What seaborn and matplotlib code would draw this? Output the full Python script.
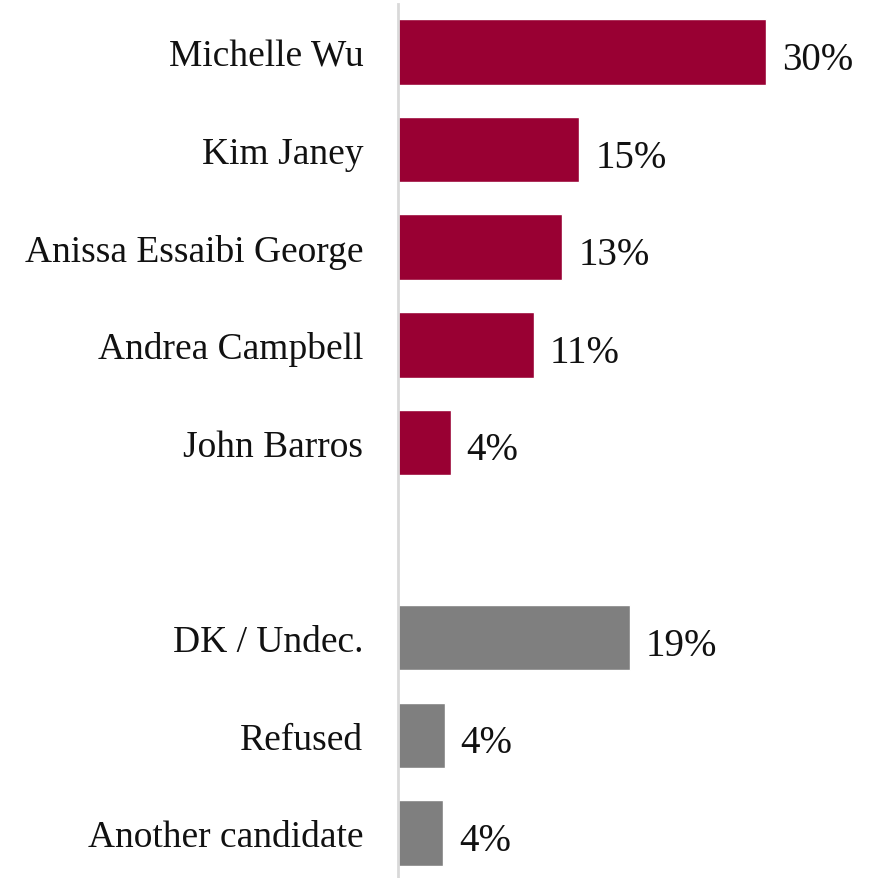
import matplotlib
matplotlib.use("Agg")
import matplotlib.pyplot as plt
import seaborn as sns
import pandas as pd

candidates = ["Michelle Wu", "Kim Janey", "Anissa Essaibi George", "Andrea Campbell",
              "John Barros", "DK / Undec.", "Refused", "Another candidate"]
values = [30.0, 14.8, 13.4, 11.1, 4.3, 18.9, 3.8, 3.7]
labels = ["30%", "15%", "13%", "11%", "4%", "19%", "4%", "4%"]
groups = ["cand", "cand", "cand", "cand", "cand", "other", "other", "other"]
positions = [0, 1, 2, 3, 4, 6, 7, 8]

df = pd.DataFrame({"name": candidates, "value": values, "group": groups, "pos": positions})

sns.set_theme(style="white")
plt.rcParams["font.family"] = ["Liberation Serif", "DejaVu Serif"]

fig = plt.figure(figsize=(8.7, 8.79), dpi=100)
ax = fig.add_axes([398 / 870, 0.0, 1 - 398 / 870, 1 - 5 / 879])

sns.barplot(data=df, x="value", y="pos", hue="group", orient="h", native_scale=True,
            palette={"cand": "#990033", "other": "#7f7f7f"}, dodge=False,
            width=0.67, legend=False, ax=ax, saturation=1)

ax.set_xlim(0, 38.5)
ax.set_ylim(8.46, -0.49)
ax.set_yticks(positions)
ax.set_yticklabels(candidates, fontsize=27, color="#111111")
ax.tick_params(axis="y", length=0, pad=25)
ax.set_xticks([])
ax.set_xlabel("")
ax.set_ylabel("")
for s in ["top", "right", "bottom"]:
    ax.spines[s].set_visible(False)
ax.spines["left"].set_color("#d9d9d9")
ax.spines["left"].set_linewidth(2)

for v, lab, p in zip(values, labels, positions):
    ax.annotate(lab, xy=(v, p), xytext=(16, -3), textcoords="offset pixels",
                va="center_baseline", ha="left", fontsize=28, color="#111111")

fig.savefig("out.png", dpi=100)
